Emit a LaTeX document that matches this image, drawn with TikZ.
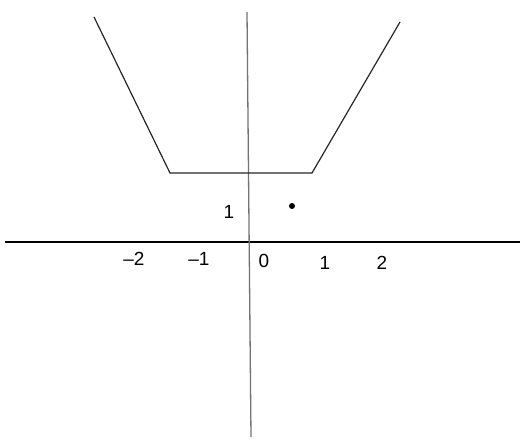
\documentclass[tikz,border=0pt]{standalone}
\usepackage{fontspec}
\setmainfont{Liberation Sans}
\begin{document}
\begin{tikzpicture}[x=1pt,y=-1pt,
  axis/.style={line width=1.2pt,black},
  yaxis/.style={line width=1.3pt,black!55},
  graph/.style={line width=1.2pt,black!85},
  lbl/.style={font=\fontsize{19}{19}\selectfont,inner sep=0pt}]
\useasboundingbox (0,0) rectangle (525,441);
% axes
\coordinate (xl) at (5,242);
\coordinate (xr) at (520,242);
\coordinate (yt) at (247,12);
\coordinate (yb) at (251,437);
\draw[axis] (xl) -- (xr);
\draw[yaxis] (yt) -- (yb);
% graph
\coordinate (p1) at (94,17);
\coordinate (p2) at (170,173);
\coordinate (p3) at (312,173);
\coordinate (p4) at (400,22);
\draw[graph] (p1) -- (p2) -- (p3) -- (p4);
% dot
\fill (292,206) circle (3pt);
% labels
\node[lbl] (ly1) at (229,212) {1};
\node[lbl] (lm2) at (134,259) {\char"2013 2};
\node[lbl] (lm1) at (199,259) {\char"2013 1};
\node[lbl] (l0) at (264,261) {0};
\node[lbl] (l1) at (325,263) {1};
\node[lbl] (l2) at (382,263) {2};
\end{tikzpicture}
\end{document}
